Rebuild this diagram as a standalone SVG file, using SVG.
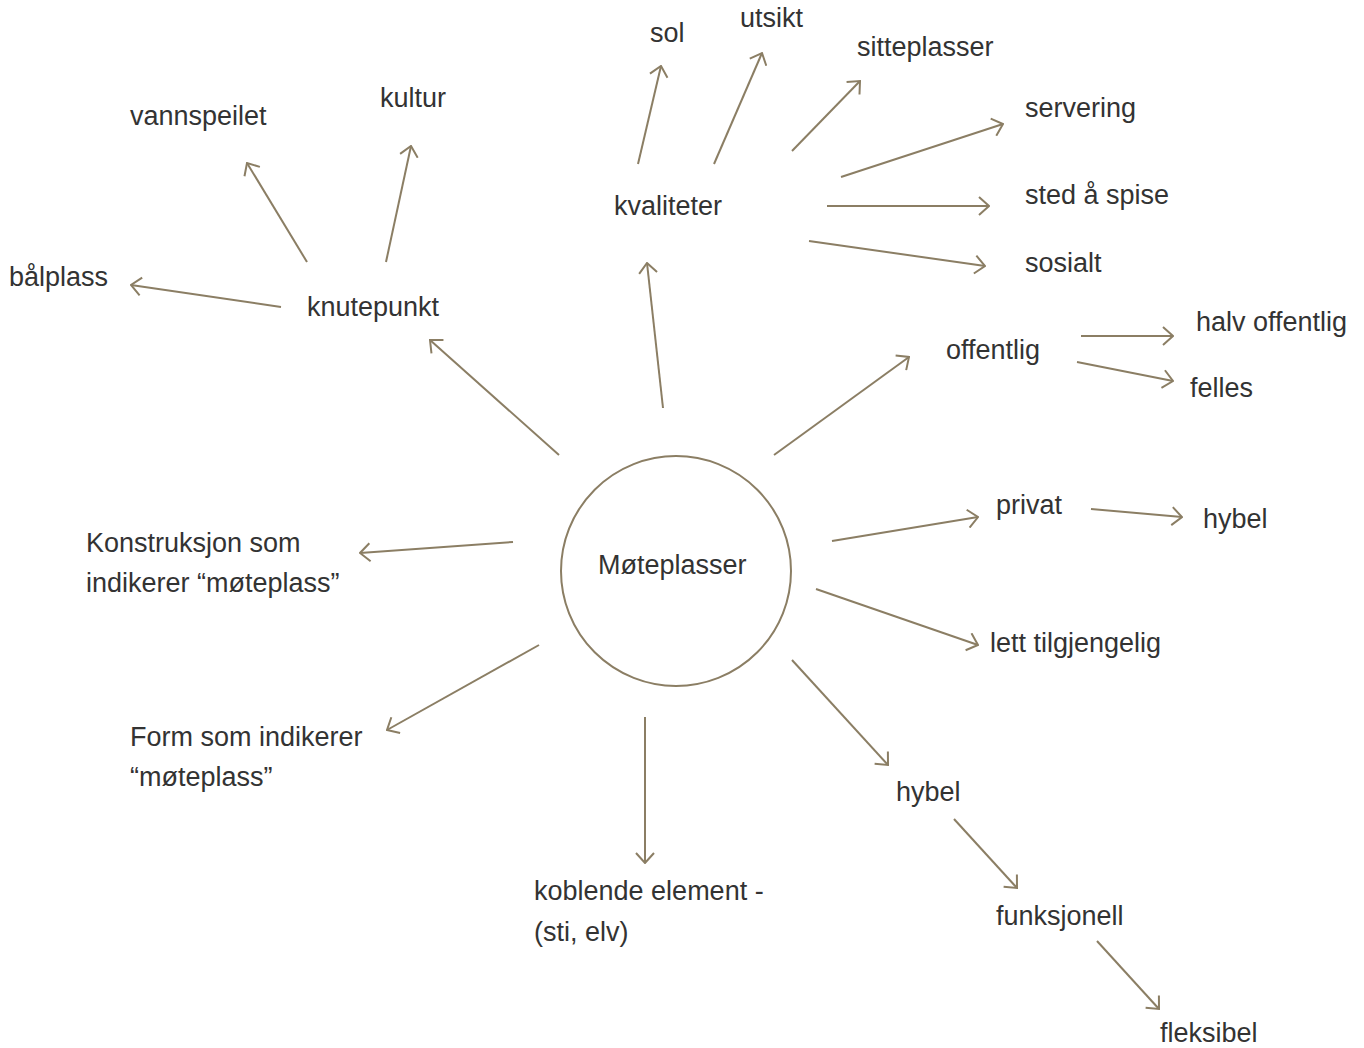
<svg xmlns="http://www.w3.org/2000/svg" width="1364" height="1048" viewBox="0 0 1364 1048">
<style>
text{font-family:"Liberation Sans",Arial,sans-serif;font-size:27px;fill:#333}
.c line{stroke:#8b7e64;stroke-width:2;fill:none;marker-end:url(#ah)}
</style>
<defs>
<marker id="ah" markerUnits="userSpaceOnUse" viewBox="0 0 12 20" markerWidth="12" markerHeight="20" refX="11" refY="10" orient="auto">
<path d="M1,1 L11,10 L1,19" fill="none" stroke="#8b7e64" stroke-width="2"/>
</marker>
</defs>
<rect width="1364" height="1048" fill="#fff"/>
<g id="center"><circle cx="676" cy="571" r="115" fill="none" stroke="#8b7e64" stroke-width="2"/><text x="598" y="574">Møteplasser</text></g>
<g id="kvaliteter"><text x="614" y="215">kvaliteter</text></g>
<g id="sol"><text x="650" y="42">sol</text></g>
<g id="utsikt"><text x="740" y="27">utsikt</text></g>
<g id="sitteplasser"><text x="857" y="56">sitteplasser</text></g>
<g id="servering"><text x="1025" y="117">servering</text></g>
<g id="sted"><text x="1025" y="204">sted å spise</text></g>
<g id="sosialt"><text x="1025" y="272">sosialt</text></g>
<g id="knutepunkt"><text x="307" y="316">knutepunkt</text></g>
<g id="vannspeilet"><text x="130" y="125">vannspeilet</text></g>
<g id="kultur"><text x="380" y="107">kultur</text></g>
<g id="balplass"><text x="9" y="286">bålplass</text></g>
<g id="offentlig"><text x="946" y="359">offentlig</text></g>
<g id="halvoffentlig"><text x="1196" y="331">halv offentlig</text></g>
<g id="felles"><text x="1190" y="397">felles</text></g>
<g id="privat"><text x="996" y="514">privat</text></g>
<g id="hybel1"><text x="1203" y="528">hybel</text></g>
<g id="lett"><text x="990" y="652">lett tilgjengelig</text></g>
<g id="konstruksjon"><text x="86" y="552">Konstruksjon som</text><text x="86" y="592">indikerer “møteplass”</text></g>
<g id="form"><text x="130" y="746">Form som indikerer</text><text x="130" y="786">“møteplass”</text></g>
<g id="koblende"><text x="534" y="900">koblende element -</text><text x="534" y="941">(sti, elv)</text></g>
<g id="hybel2"><text x="896" y="801">hybel</text></g>
<g id="funksjonell"><text x="996" y="925">funksjonell</text></g>
<g id="fleksibel"><text x="1160" y="1042">fleksibel</text></g>
<g id="connectors" class="c">
<line x1="663" y1="408" x2="647" y2="263"/>
<line x1="638" y1="164" x2="661" y2="66"/>
<line x1="714" y1="164" x2="762" y2="53"/>
<line x1="792" y1="151" x2="860" y2="81"/>
<line x1="841" y1="177" x2="1003" y2="124"/>
<line x1="827" y1="206" x2="989" y2="206"/>
<line x1="809" y1="241" x2="985" y2="266"/>
<line x1="559" y1="455" x2="430" y2="340"/>
<line x1="307" y1="262" x2="247" y2="163"/>
<line x1="386" y1="262" x2="411" y2="146"/>
<line x1="281" y1="307" x2="131" y2="285"/>
<line x1="513" y1="542" x2="360" y2="553"/>
<line x1="539" y1="645" x2="387" y2="730"/>
<line x1="645" y1="717" x2="645" y2="863"/>
<line x1="792" y1="660" x2="888" y2="765"/>
<line x1="816" y1="589" x2="978" y2="645"/>
<line x1="832" y1="541" x2="978" y2="517"/>
<line x1="774" y1="455" x2="909" y2="357"/>
<line x1="1081" y1="336" x2="1173" y2="336"/>
<line x1="1077" y1="362" x2="1173" y2="381"/>
<line x1="1091" y1="509" x2="1182" y2="517"/>
<line x1="954" y1="819" x2="1017" y2="888"/>
<line x1="1097" y1="941" x2="1159" y2="1009"/>
</g>
</svg>
